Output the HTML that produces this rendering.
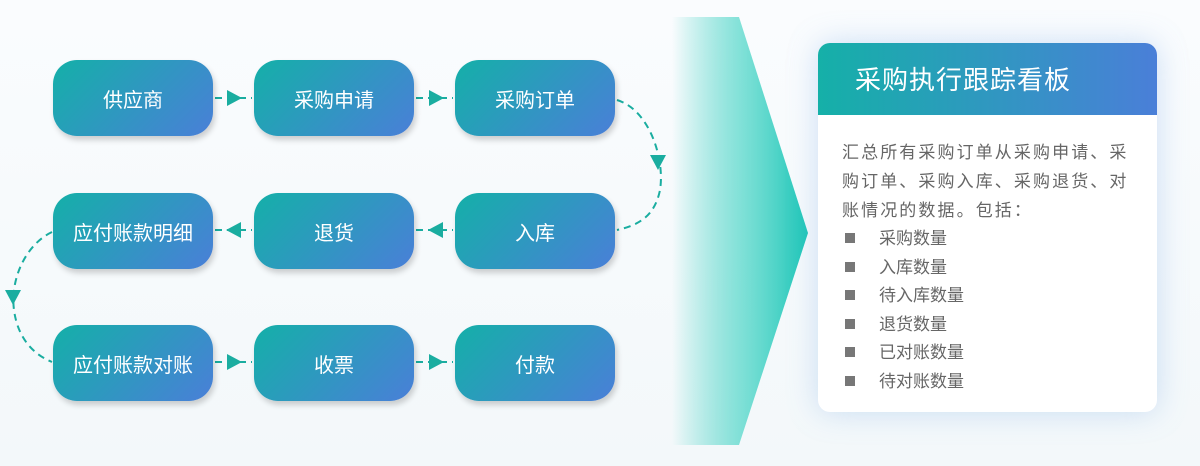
<!DOCTYPE html>
<html><head><meta charset="utf-8"><style>
body{margin:0;width:1200px;height:466px;overflow:hidden;background:linear-gradient(180deg,#fafcfe,#f3f8fa);font-family:"Liberation Sans","Noto Sans CJK SC",sans-serif;position:relative}
.b{position:absolute;width:160px;height:76px;border-radius:24px;background:linear-gradient(135deg,#14b0a8,#4a7fd8);box-shadow:2px 4px 6px rgba(0,0,0,.18);color:#fff;font-size:20px;display:flex;align-items:center;justify-content:center}
.card{position:absolute;left:818px;top:43px;width:339px;height:369px;background:#fff;border-radius:12px;box-shadow:0 0 30px rgba(120,170,230,.35);overflow:hidden}
.hd{height:72px;background:linear-gradient(90deg,#15b0a8,#4a7fd8);color:#fff;font-size:26px;line-height:74px;padding-left:37px;letter-spacing:1px}
.bd{padding:23px 0 0 24px;color:#666;font-size:17px;line-height:29px;width:292px;letter-spacing:2.1px}
.li{line-height:28.6px;letter-spacing:0}.li span{display:inline-block;width:10px;height:10px;background:#777;margin:0 24px 0 3px;vertical-align:1px}
</style></head><body>
<svg width="1200" height="466" style="position:absolute;left:0;top:0">
<defs><linearGradient id="g" x1="0" x2="1"><stop offset="0" stop-color="#1fc8b8" stop-opacity="0"/><stop offset=".5" stop-color="#4fd6c8" stop-opacity=".7"/><stop offset="1" stop-color="#1cc6b7"/></linearGradient></defs>
<polygon points="672,17 739,17 808,233 739,445 672,445" fill="url(#g)"/>
<g stroke="#1aada0" stroke-width="2" stroke-dasharray="7,5" fill="none">
<line x1="215" y1="98" x2="252" y2="98"/><line x1="416" y1="98" x2="453" y2="98"/>
<line x1="215" y1="230" x2="252" y2="230"/><line x1="416" y1="230" x2="453" y2="230"/>
<line x1="215" y1="362" x2="252" y2="362"/><line x1="416" y1="362" x2="453" y2="362"/>
<path d="M617,100 C650,110 665,160 660,190 C655,215 640,225 617,230"/>
<path d="M52,232 C25,245 10,280 14,310 C18,340 35,355 52,362"/>
</g>
<g fill="#1aada0">
<polygon points="227,90 242,98 227,106"/><polygon points="429,90 444,98 429,106"/>
<polygon points="241,222 226,230 241,238"/><polygon points="443,222 428,230 443,238"/>
<polygon points="227,354 242,362 227,370"/><polygon points="429,354 444,362 429,370"/>
<polygon points="650,155 666,155 658,170"/><polygon points="5,290 21,290 13,305"/>
</g></svg>
<div class="b" style="left:53px;top:60px">供应商</div>
<div class="b" style="left:254px;top:60px">采购申请</div>
<div class="b" style="left:455px;top:60px">采购订单</div>
<div class="b" style="left:53px;top:193px">应付账款明细</div>
<div class="b" style="left:254px;top:193px">退货</div>
<div class="b" style="left:455px;top:193px">入库</div>
<div class="b" style="left:53px;top:325px">应付账款对账</div>
<div class="b" style="left:254px;top:325px">收票</div>
<div class="b" style="left:455px;top:325px">付款</div>
<div class="card"><div class="hd">采购执行跟踪看板</div>
<div class="bd">汇总所有采购订单从采购申请、采<br>购订单、采购入库、采购退货、对<br>账情况的数据。包括：
<div class="li"><span></span>采购数量</div><div class="li"><span></span>入库数量</div><div class="li"><span></span>待入库数量</div><div class="li"><span></span>退货数量</div><div class="li"><span></span>已对账数量</div><div class="li"><span></span>待对账数量</div>
</div></div>
</body></html>
